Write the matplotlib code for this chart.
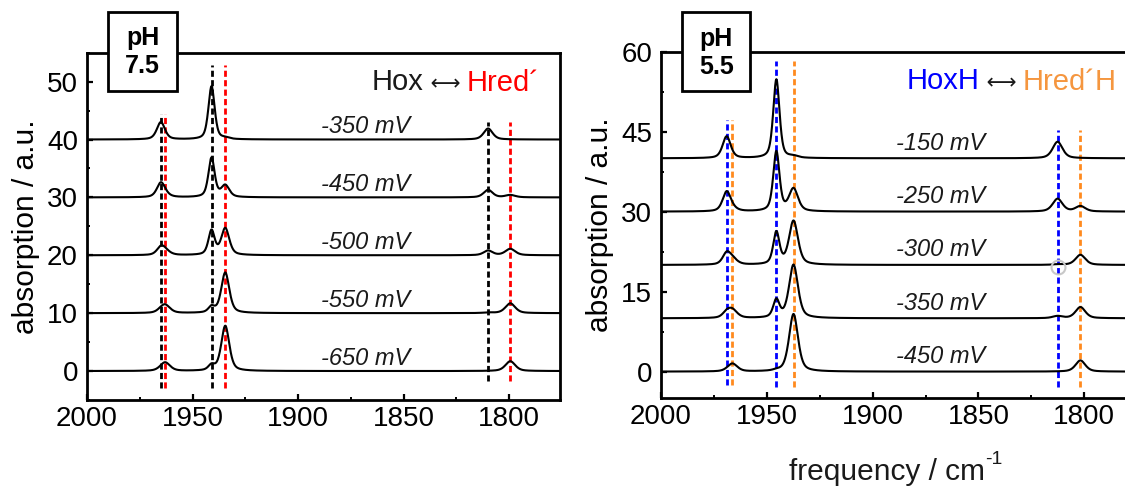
import numpy as np
import matplotlib
matplotlib.use("Agg")
import matplotlib.pyplot as plt
from matplotlib.patches import Rectangle
from matplotlib.ticker import MultipleLocator

plt.rcParams['font.family'] = ['Liberation Sans', 'DejaVu Sans']

# ---------------- data ----------------
x_range = [2000, 1776]
x_ticks = [2000, 1950, 1900, 1850, 1800]

# Left panel: pH 7.5, Hox <-> Hred'
left_potentials = ['-350 mV', '-450 mV', '-500 mV', '-550 mV', '-650 mV']
left_offsets = [40, 30, 20, 10, 0]
hox_pos = [1965.0, 1941.0, 1810.0]
hox_width = [4.5, 3.5, 5.0]
hred_pos = [1963.0, 1934.5, 1799.5]
hred_width = [5.5, 4.5, 5.5]
left_hox_amp = [[3.0, 9.2, 1.9], [2.4, 6.8, 1.3], [1.2, 4.2, 0.8],
                [0.2, 1.0, 0.1], [0.0, 0.9, 0.0]]
left_hred_amp = [[0.0, 0.2, 0.0], [0.3, 2.0, 0.4], [0.7, 4.6, 1.1],
                 [1.4, 7.0, 1.7], [1.5, 7.8, 1.7]]
left_lines_black = [1965.0, 1941.0, 1810.0]
left_lines_red = [1963.0, 1934.5, 1799.5]
left_lines_top = [44.4, 52.8, 43.0]
left_lines_bottom = [-2.9, -2.9, -1.8]
left_yticks = [0, 10, 20, 30, 40, 50]

# Right panel: pH 5.5, HoxH <-> Hred'H
right_potentials = ['-150 mV', '-250 mV', '-300 mV', '-350 mV', '-450 mV']
right_offsets = [40, 30, 20, 10, 0]
hoxh_pos = [1969.0, 1945.5, 1812.6]
hoxh_width = [4.5, 3.5, 5.5]
hredh_pos = [1966.3, 1937.4, 1801.8]
hredh_width = [5.5, 5.0, 5.5]
right_hoxh_amp = [[4.1, 14.8, 3.1], [3.6, 11.2, 2.4], [2.0, 6.0, 0.1],
                  [0.9, 3.3, 0.4], [0.0, 0.15, 0.0]]
right_hredh_amp = [[0.0, 0.3, 0.0], [0.4, 4.2, 1.0], [1.0, 8.2, 1.9],
                   [1.5, 10.0, 2.1], [1.5, 10.8, 2.1]]
right_lines_blue = [1969.0, 1945.5, 1812.6]
right_lines_orange = [1966.3, 1937.4, 1801.8]
right_lines_top = [47.2, 58.2, 45.3]
right_lines_bottom = [-2.6, -2.9, -2.8]
right_yticks = [0, 15, 30, 45, 60]

RED = '#FF0000'
BLUE = '#0000FF'
ORANGE = '#FF8A1E'
ORANGE_TXT = '#F5963F'

x = np.linspace(x_range[0], x_range[1], 1500)


def band(center, fwhm, amp, eta=0.5):
    d = (x - center) / fwhm
    lor = 1.0 / (1.0 + 4.0 * d ** 2)
    gau = np.exp(-4.0 * np.log(2) * d ** 2)
    return amp * (eta * lor + (1 - eta) * gau)


def spectrum(pos_a, w_a, amp_a, pos_b, w_b, amp_b):
    y = np.zeros_like(x)
    for c, w, a in zip(pos_a, w_a, amp_a):
        y += band(c, w, a)
    for c, w, a in zip(pos_b, w_b, amp_b):
        y += band(c, w, a)
    return y


fig = plt.figure(figsize=(11.25, 4.86), dpi=100)
axL = fig.add_axes([0.0773, 0.1770, 0.4204, 0.7146])
axR = fig.add_axes([0.5876, 0.1805, 0.4213, 0.7133])

dash = (2.2, 1.2)

# ---------- left ----------
for c, t, b in zip(left_lines_black, left_lines_top, left_lines_bottom):
    axL.plot([c, c], [b, t], color='black', lw=2.0, dashes=dash, zorder=1)
for c, t, b in zip(left_lines_red, left_lines_top, left_lines_bottom):
    axL.plot([c, c], [b, t], color=RED, lw=2.0, dashes=dash, zorder=1)
for lab, off, ah, ar in zip(left_potentials, left_offsets, left_hox_amp, left_hred_amp):
    y = spectrum(hox_pos, hox_width, ah, hred_pos, hred_width, ar)
    axL.plot(x, y + off, color='black', lw=1.5, zorder=2)
    axL.text(1868, off + 1.1, lab, style='italic', fontsize=17, ha='center',
             va='baseline', color='#1a1a1a')
axL.set_xlim(*x_range)
axL.set_ylim(-5, 55)
axL.set_yticks(left_yticks)
axL.yaxis.set_minor_locator(MultipleLocator(5))
axL.set_ylabel('absorption / a.u.', fontsize=21.5, labelpad=5)

# ---------- right ----------
for c, t, b in zip(right_lines_blue, right_lines_top, right_lines_bottom):
    axR.plot([c, c], [b, t], color=BLUE, lw=2.0, dashes=dash, zorder=1)
for c, t, b in zip(right_lines_orange, right_lines_top, right_lines_bottom):
    axR.plot([c, c], [b, t], color=ORANGE, lw=2.0, dashes=dash, zorder=1)
for lab, off, ah, ar in zip(right_potentials, right_offsets, right_hoxh_amp, right_hredh_amp):
    y = spectrum(hoxh_pos, hoxh_width, ah, hredh_pos, hredh_width, ar)
    axR.plot(x, y + off, color='black', lw=1.5, zorder=2)
    axR.text(1868, off + 1.6, lab, style='italic', fontsize=17, ha='center',
             va='baseline', color='#1a1a1a')
axR.plot([1812.6], [19.6], marker='o', ms=10, mfc='none', mec='#C8C8C8', mew=1.5, zorder=3)
axR.set_xlim(*x_range)
axR.set_ylim(-5, 60)
axR.set_yticks(right_yticks)
axR.yaxis.set_minor_locator(MultipleLocator(7.5))
axR.set_ylabel('absorption / a.u.', fontsize=21.5, labelpad=5)

# x label of the right panel with a plain-hyphen superscript
xl = axR.text(0.477, -0.212, 'frequency / cm', fontsize=21.5, ha='center', va='center',
              transform=axR.transAxes, color='#1a1a1a')
axR.annotate('-1', xy=(1, 0.62), xycoords=xl, ha='left', va='bottom',
             fontsize=14, color='#1a1a1a')

for ax in (axL, axR):
    ax.set_xticks(x_ticks)
    ax.xaxis.set_minor_locator(MultipleLocator(25))
    for s in ax.spines.values():
        s.set_linewidth(2.0)
    ax.tick_params(which='major', direction='in', length=4.5, width=1.6, labelsize=20)
    ax.tick_params(which='minor', direction='in', length=2.3, width=1.4)
    ax.tick_params(axis='y', which='major', pad=6.5)
    ax.tick_params(axis='x', which='major', pad=4)

# ---------- state annotations ----------
ARROW_FONT = ['DejaVu Sans']
t2 = axL.text(0.958, 0.914, 'Hred\u00b4', color=RED, fontsize=21, ha='right',
              va='center', transform=axL.transAxes)
ta = axL.annotate(' \u27F7 ', xy=(0, 0.1), xycoords=t2, ha='right', va='bottom',
                  fontsize=15, color='#1a1a1a', family=ARROW_FONT)
axL.annotate('Hox', xy=(0, -0.1), xycoords=ta, ha='right', va='bottom',
             fontsize=21, color='#1a1a1a')

t4 = axR.text(0.962, 0.913, 'Hred\u00b4H', color=ORANGE_TXT, fontsize=21, ha='right',
              va='center', transform=axR.transAxes)
t3 = axR.annotate(' \u27F7 ', xy=(0, 0.1), xycoords=t4, ha='right', va='bottom',
                  fontsize=15, color='#1a1a1a', family=ARROW_FONT)
axR.annotate('HoxH', xy=(0, -0.1), xycoords=t3, ha='right', va='bottom',
             fontsize=21, color=BLUE)

# ---------- pH boxes ----------
for (bx, bw, cy, txt) in [(0.0963, 0.0608, 0.8936, 'pH\n7.5'),
                          (0.6065, 0.0602, 0.8916, 'pH\n5.5')]:
    fig.add_artist(Rectangle((bx, 0.8135), bw, 0.1611, transform=fig.transFigure,
                             fc='white', ec='black', lw=2.0, zorder=5))
    fig.text(bx + bw / 2, cy, txt, fontsize=18, fontweight='bold', ha='center',
             va='center', linespacing=1.2, zorder=6)

fig.savefig('out.png', dpi=100)
